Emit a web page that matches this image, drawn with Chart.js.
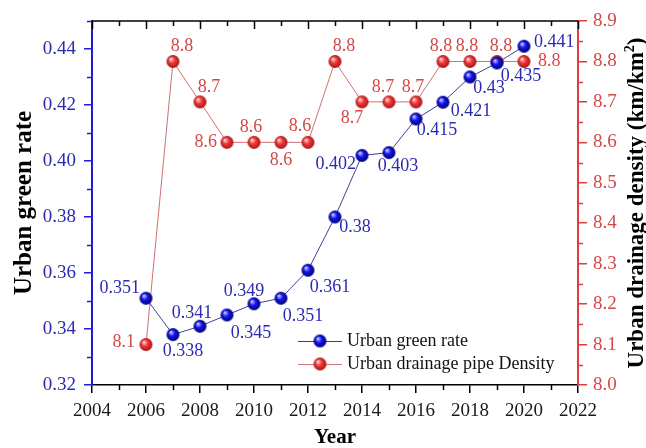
<!DOCTYPE html>
<html>
<head>
<meta charset="utf-8">
<script src="https://cdn.jsdelivr.net/npm/chart.js@4.4.0/dist/chart.umd.min.js"></script>
<style>
  html, body { margin: 0; padding: 0; background: #ffffff; }
  #wrap { width: 646px; height: 448px; }
</style>
</head>
<body>
<div id="wrap"><canvas id="chart" width="646" height="448"></canvas></div>
<script>
// ---- data ----
const years = [2006, 2007, 2008, 2009, 2010, 2011, 2012, 2013, 2014, 2015, 2016, 2017, 2018, 2019, 2020];
const greenRate = [0.351, 0.338, 0.341, 0.345, 0.349, 0.351, 0.361, 0.380, 0.402, 0.403, 0.415, 0.421, 0.430, 0.435, 0.441];
const pipeDensity = [8.1, 8.8, 8.7, 8.6, 8.6, 8.6, 8.6, 8.8, 8.7, 8.7, 8.7, 8.8, 8.8, 8.8, 8.8];
const yearTicks = [2004, 2006, 2008, 2010, 2012, 2014, 2016, 2018, 2020, 2022];
const greenTicks = [0.32, 0.34, 0.36, 0.38, 0.40, 0.42, 0.44];
const densityTicks = [8.0, 8.1, 8.2, 8.3, 8.4, 8.5, 8.6, 8.7, 8.8, 8.9];
const seriesNames = ['Urban green rate', 'Urban drainage pipe Density'];

// ---- value-label placement (pixel offsets from each point, text alignment) ----
const greenLabelPlace = [
  [-6, -10, 'right'], [10, 17, 'center'], [-8, -13, 'center'], [24, 18, 'center'],
  [-10, -13, 'center'], [22, 18, 'center'], [22, 17, 'center'], [20, 10, 'center'],
  [-6, 9, 'right'], [9, 14, 'center'], [21, 11, 'center'], [28, 9, 'center'],
  [19, 11, 'center'], [24, 13, 'center'], [10, -4, 'left']
];
const densityLabelPlace = [
  [-11, -2, 'right'], [9, -15, 'center'], [9, -15, 'center'], [-10, 0, 'right'],
  [-3, -15, 'center'], [0, 18, 'center'], [-8, -16, 'center'], [9, -15, 'center'],
  [-10, 16, 'center'], [-6, -15, 'center'], [-3, -15, 'center'], [-2, -15, 'center'],
  [-3, -15, 'center'], [4, -15, 'center'], [14, 0, 'left']
];

// ---- styling ----
const SERIF = '"Liberation Serif", "Times New Roman", serif';
const BLUE_AXIS = '#1c1cd6';
const BLUE_TEXT = '#2a2ab2';
const RED_AXIS = '#e23c3c';
const RED_TEXT = '#d44848';

function sphere(light, mid, dark, r) {
  const c = document.createElement('canvas');
  const s = Math.ceil(r * 2) + 2;
  c.width = s; c.height = s;
  const g = c.getContext('2d');
  const cx = s / 2, cy = s / 2;
  const grad = g.createRadialGradient(cx - r * 0.35, cy - r * 0.4, r * 0.05, cx, cy, r);
  grad.addColorStop(0, light);
  grad.addColorStop(0.45, mid);
  grad.addColorStop(1, dark);
  g.fillStyle = grad;
  g.beginPath();
  g.arc(cx, cy, r, 0, Math.PI * 2);
  g.fill();
  return c;
}
const blueBall = sphere('#d8d8ff', '#1414f2', '#000070', 6.5);
const redBall = sphere('#ffe0e0', '#f23a3a', '#a41414', 6.5);

// minor ticks, mirrored top ticks, value labels, legend and right-hand title
const decorations = {
  id: 'decorations',
  afterDatasetsDraw(chart) {
    const ctx = chart.ctx;
    const x = chart.scales.x, yl = chart.scales.y, yr = chart.scales.y1;
    const area = chart.chartArea;
    ctx.save();

    // top frame line with inward ticks
    ctx.strokeStyle = '#000';
    ctx.lineWidth = 1.5;
    ctx.beginPath();
    ctx.moveTo(area.left, area.top);
    ctx.lineTo(area.right, area.top);
    ctx.stroke();
    ctx.beginPath();
    for (let v = 2004; v <= 2022; v++) {
      const px = Math.round(x.getPixelForValue(v)) + 0.5;
      const len = (v % 2 === 0) ? 8 : 5;
      ctx.moveTo(px, area.top);
      ctx.lineTo(px, area.top + len);
      if (v % 2 === 1) {
        ctx.moveTo(px, area.bottom);
        ctx.lineTo(px, area.bottom + 5);
      }
    }
    ctx.stroke();

    // minor ticks on the left axis
    ctx.strokeStyle = BLUE_AXIS;
    ctx.beginPath();
    for (let i = 0; i < greenTicks.length; i++) {
      const v = greenTicks[i] + 0.01;
      const py = Math.round(yl.getPixelForValue(v)) + 0.5;
      ctx.moveTo(area.left, py);
      ctx.lineTo(area.left - 5, py);
    }
    ctx.stroke();

    // minor ticks on the right axis
    ctx.strokeStyle = RED_AXIS;
    ctx.beginPath();
    for (let i = 0; i < densityTicks.length - 1; i++) {
      const v = densityTicks[i] + 0.05;
      const py = Math.round(yr.getPixelForValue(v)) + 0.5;
      ctx.moveTo(area.right, py);
      ctx.lineTo(area.right + 5, py);
    }
    ctx.stroke();

    // value labels
    ctx.font = '18px ' + SERIF;
    ctx.textBaseline = 'middle';
    const drawLabels = (datasetIndex, values, place, color, digits) => {
      const meta = chart.getDatasetMeta(datasetIndex);
      ctx.fillStyle = color;
      meta.data.forEach((pt, i) => {
        const [dx, dy, align] = place[i];
        ctx.textAlign = align;
        const txt = digits === 1 ? values[i].toFixed(1) : String(values[i]);
        ctx.fillText(txt, pt.x + dx, pt.y + dy);
      });
    };
    drawLabels(1, pipeDensity, densityLabelPlace, RED_TEXT, 1);
    drawLabels(0, greenRate, greenLabelPlace, BLUE_TEXT, 3);

    // legend inside the plot, lower right
    const legendRows = [
      { name: seriesNames[0], line: '#3a3aa0', ball: blueBall, y: 341 },
      { name: seriesNames[1], line: '#d07878', ball: redBall, y: 364 }
    ];
    ctx.font = '18px ' + SERIF;
    ctx.textAlign = 'left';
    legendRows.forEach(r => {
      ctx.strokeStyle = r.line;
      ctx.lineWidth = 1.2;
      ctx.beginPath();
      ctx.moveTo(298, r.y + 0.5);
      ctx.lineTo(342, r.y + 0.5);
      ctx.stroke();
      ctx.drawImage(r.ball, 320 - r.ball.width / 2, r.y - r.ball.height / 2);
      ctx.fillStyle = '#111';
      ctx.fillText(r.name, 347, r.y);
    });

    // right axis title, reading bottom to top
    ctx.save();
    ctx.translate(637, (area.top + area.bottom) / 2);
    ctx.rotate(-Math.PI / 2);
    ctx.textBaseline = 'middle';
    ctx.fillStyle = '#000';
    const bigFont = 'bold 23px ' + SERIF;
    const supFont = 'bold 14px ' + SERIF;
    const main = 'Urban drainage density (km/km';
    const sup = '2';
    const close = ')';
    ctx.font = bigFont;
    const wMain = ctx.measureText(main).width;
    const wClose = ctx.measureText(close).width;
    ctx.font = supFont;
    const wSup = ctx.measureText(sup).width;
    let sx = -(wMain + wSup + wClose) / 2;
    ctx.textAlign = 'left';
    ctx.font = bigFont;
    ctx.fillText(main, sx, 0);
    sx += wMain;
    ctx.font = supFont;
    ctx.fillText(sup, sx, -7);
    sx += wSup;
    ctx.font = bigFont;
    ctx.fillText(close, sx, 0);
    ctx.restore();

    ctx.restore();
  }
};

new Chart(document.getElementById('chart'), {
  type: 'line',
  data: {
    labels: years,
    datasets: [
      {
        label: seriesNames[0],
        data: years.map((yr, i) => ({ x: yr, y: greenRate[i] })),
        yAxisID: 'y',
        borderColor: '#40409a',
        borderWidth: 1,
        pointStyle: blueBall,
        pointRadius: 6.5,
        pointHoverRadius: 6.5,
        tension: 0
      },
      {
        label: seriesNames[1],
        data: years.map((yr, i) => ({ x: yr, y: pipeDensity[i] })),
        yAxisID: 'y1',
        borderColor: '#cf7070',
        borderWidth: 1,
        pointStyle: redBall,
        pointRadius: 6.5,
        pointHoverRadius: 6.5,
        tension: 0
      }
    ]
  },
  options: {
    responsive: false,
    animation: false,
    devicePixelRatio: 1,
    layout: { padding: { top: 21, left: 0, right: 0, bottom: 0 } },
    plugins: { legend: { display: false }, tooltip: { enabled: false } },
    scales: {
      x: {
        type: 'linear',
        min: yearTicks[0],
        max: yearTicks[yearTicks.length - 1],
        afterBuildTicks(scale) { scale.ticks = yearTicks.map(v => ({ value: v })); },
        afterFit(scale) { scale.height = 63; },
        border: { display: true, color: '#000', width: 1.5 },
        grid: { drawOnChartArea: false, drawTicks: true, tickLength: 8, color: '#000', lineWidth: 1.5 },
        ticks: {
          color: '#1a1a1a',
          font: { family: SERIF, size: 19 },
          padding: 7,
          maxRotation: 0,
          callback: v => String(v)
        },
        title: {
          display: true,
          text: 'Year',
          color: '#000',
          font: { family: SERIF, size: 21, weight: 'bold', lineHeight: 1 },
          padding: { top: 1, bottom: 0 }
        }
      },
      y: {
        type: 'linear',
        position: 'left',
        min: 0.32,
        max: 0.45,
        afterBuildTicks(scale) { scale.ticks = greenTicks.map(v => ({ value: v })); },
        afterFit(scale) { scale.width = 92; },
        border: { display: true, color: BLUE_AXIS, width: 2 },
        grid: { drawOnChartArea: false, drawTicks: true, tickLength: 8, color: BLUE_AXIS, lineWidth: 1.5 },
        ticks: {
          color: BLUE_TEXT,
          font: { family: SERIF, size: 19 },
          padding: 8,
          callback: v => Number(v).toFixed(2)
        },
        title: {
          display: true,
          text: 'Urban green rate',
          color: '#000',
          font: { family: SERIF, size: 25, weight: 'bold', lineHeight: 1 },
          padding: { top: 12, bottom: 0 }
        }
      },
      y1: {
        type: 'linear',
        position: 'right',
        min: 8.0,
        max: 8.9,
        afterBuildTicks(scale) { scale.ticks = densityTicks.map(v => ({ value: v })); },
        afterFit(scale) { scale.width = 68; },
        border: { display: true, color: RED_AXIS, width: 2 },
        grid: { drawOnChartArea: false, drawTicks: true, tickLength: 9, color: RED_AXIS, lineWidth: 1.5 },
        ticks: {
          color: RED_TEXT,
          font: { family: SERIF, size: 19 },
          padding: 6,
          callback: v => Number(v).toFixed(1)
        }
      }
    }
  },
  plugins: [decorations]
});
</script>
</body>
</html>
